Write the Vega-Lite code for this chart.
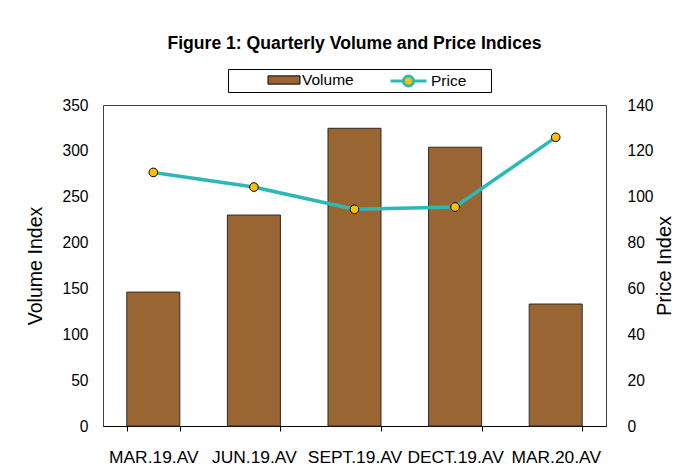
{
  "$schema": "https://vega.github.io/schema/vega-lite/v6.json",
  "width": 503,
  "height": 321,
  "autosize": {"type": "none"},
  "padding": {"left": 103, "top": 105, "right": 71, "bottom": 48},
  "background": "white",
  "config": {
    "font": "Liberation Sans",
    "view": {"stroke": "#404040", "strokeWidth": 1}
  },
  "title": {
    "text": "Figure 1: Quarterly Volume and Price Indices",
    "fontSize": 17.6,
    "fontWeight": "bold",
    "font": "Liberation Sans",
    "color": "#000000",
    "anchor": "middle",
    "offset": 16
  },
  "data": {
    "values": [
      {"q": "MAR.19.AV", "volume": 146, "price": 110.6},
      {"q": "JUN.19.AV", "volume": 230, "price": 104.2},
      {"q": "SEPT.19.AV", "volume": 324.6, "price": 94.5},
      {"q": "DECT.19.AV", "volume": 304, "price": 95.5},
      {"q": "MAR.20.AV", "volume": 133, "price": 125.9}
    ]
  },
  "encoding": {
    "x": {
      "field": "q",
      "type": "nominal",
      "sort": null,
      "scale": {"paddingInner": 0.473, "paddingOuter": 0.2365},
      "axis": {
        "title": null,
        "labelAngle": 0,
        "labelFontSize": 17.4,
        "labelColor": "#000000",
        "labelPadding": 17,
        "tickBand": "extent",
        "tickSize": 5,
        "tickColor": "#000000",
        "domainColor": "#000000",
        "labelLimit": 200
      }
    }
  },
  "layer": [
    {
      "mark": {"type": "bar", "stroke": "#2b2b2b", "strokeWidth": 1},
      "encoding": {
        "y": {
          "field": "volume",
          "type": "quantitative",
          "scale": {"domain": [0, 350]},
          "axis": {
            "title": "Volume Index",
            "titleFontSize": 19.6,
            "titleFontWeight": "normal",
            "titleColor": "#000000",
            "titlePadding": 16,
            "values": [0, 50, 100, 150, 200, 250, 300, 350],
            "labelFontSize": 15.6,
            "labelColor": "#000000",
            "labelPadding": 15,
            "ticks": false,
            "domain": false,
            "grid": false
          }
        },
        "fill": {
          "datum": "Volume",
          "type": "nominal",
          "scale": {"domain": ["Volume"], "range": ["#996633"]},
          "legend": {
            "orient": "none",
            "legendX": 125,
            "legendY": -36,
            "direction": "horizontal",
            "title": null,
            "strokeColor": "#000000",
            "fillColor": "white",
            "padding": 3,
            "symbolSize": 225,
            "symbolType": "M3.87,-0.55H8.13V0.55H3.87Z",
            "symbolStrokeColor": "#000000",
            "symbolStrokeWidth": 1,
            "symbolOpacity": 1,
            "labelOffset": 55,
            "labelFontSize": 15.5,
            "labelColor": "#000000",
            "labelLimit": 400,
            "labelExpr": "datum.label + '\u00a0\u00a0\u00a0\u00a0\u00a0\u00a0\u00a0\u00a0\u00a0\u00a0\u00a0\u00a0\u00a0\u00a0\u00a0\u00a0\u00a0\u00a0\u00a0\u00a0\u00a0\u00a0\u00a0\u00a0\u00a0\u00a0\u00a0\u00a0\u00a0\u00a0\u00a0\u200b'"
          }
        }
      }
    },
    {
      "layer": [
        {
          "mark": {"type": "line", "strokeWidth": 3.5},
          "encoding": {
            "y": {
              "field": "price",
              "type": "quantitative",
              "scale": {"domain": [0, 140]},
              "axis": {
                "orient": "right",
                "title": "Price Index",
                "titleFontSize": 20,
                "titleFontWeight": "normal",
                "titleColor": "#000000",
                "titleAngle": 270,
                "titleBaseline": "top",
                "titlePadding": 1,
                "values": [0, 20, 40, 60, 80, 100, 120, 140],
                "labelFontSize": 15.6,
                "labelColor": "#000000",
                "labelPadding": 21,
                "ticks": false,
                "domain": false,
                "grid": false
              }
            },
            "stroke": {
              "datum": "Price",
              "type": "nominal",
              "scale": {"domain": ["Price"], "range": ["#2CB9B5"]},
              "legend": {
                "orient": "none",
                "legendX": 255,
                "legendY": -33,
                "direction": "horizontal",
                "title": null,
                "padding": 0,
                "symbolSize": 225,
                "symbolType": "M3.13,0H4.86M6.2,0H7.93M4.86,0A0.67,0.67 0 1,0 6.2,0A0.67,0.67 0 1,0 4.86,0",
                "symbolFillColor": "#FFC000",
                "symbolStrokeWidth": 3,
                "symbolOpacity": 1,
                "labelOffset": 55,
                "labelFontSize": 15.5,
                "labelColor": "#000000"
              }
            }
          }
        },
        {
          "mark": {"type": "point", "filled": true, "fill": "#FFC000", "stroke": "#000000", "strokeWidth": 1, "size": 75, "opacity": 1},
          "encoding": {
            "y": {"field": "price", "type": "quantitative", "scale": {"domain": [0, 140]}}
          }
        }
      ]
    }
  ],
  "resolve": {"scale": {"y": "independent"}}
}
